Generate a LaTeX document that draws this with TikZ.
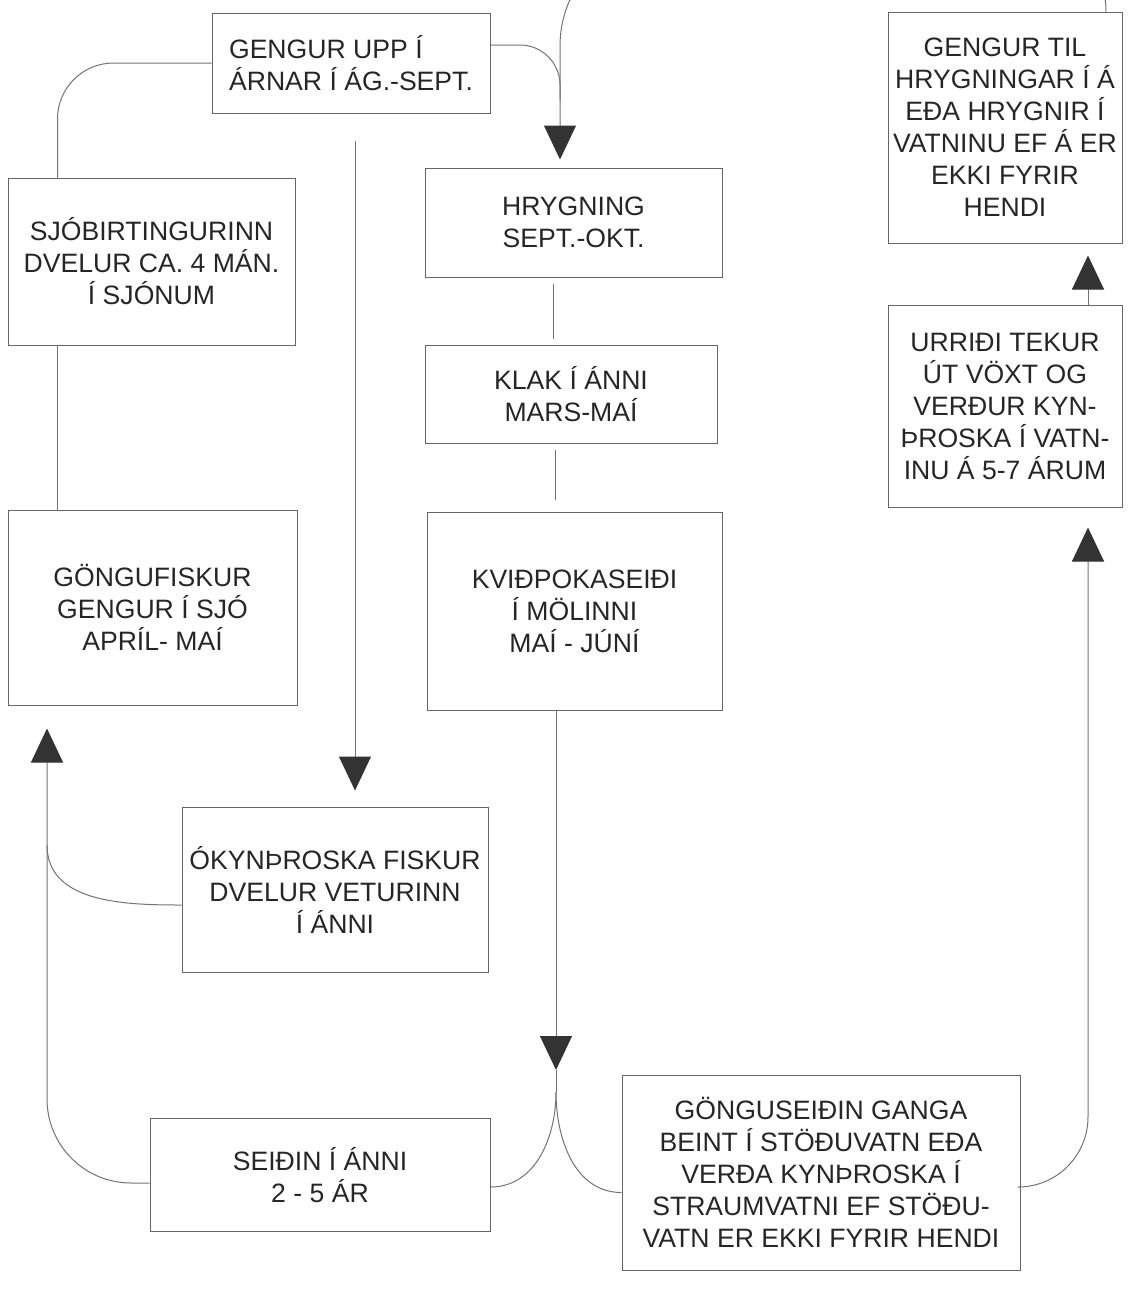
\documentclass[tikz,border=0pt]{standalone}
\usepackage{fontspec}
\setmainfont{Liberation Sans}
\usetikzlibrary{arrows.meta}

\begin{document}
\begin{tikzpicture}[x=0.5pt, y=-0.5pt,
  box/.style={draw=black!60, line width=0.5pt, align=center, inner sep=2pt,
    font=\fontsize{13.3}{16}\selectfont, text=black!85},
  conn/.style={draw=black!55, line width=0.5pt},
  headarrow/.style={-{Triangle[width=16pt, length=17pt, color=black!80]}}]
  \useasboundingbox (0,0) rectangle (1136,1314);
  \clip (0,0) rectangle (1136,1314);

  % river / sea loop
  \node[box, align=left, minimum width=139pt, minimum height=50pt] (gengur) at (351,63) {GENGUR UPP Í\\ÁRNAR Í ÁG.-SEPT.};
  \node[box, minimum width=143.5pt, minimum height=83.5pt] (sjob) at (151.5,261.5) {SJÓBIRTINGURINN\\DVELUR CA. 4 MÁN.\\Í SJÓNUM};
  \node[box, minimum width=144.5pt, minimum height=97.5pt] (gong) at (152.5,607.5) {GÖNGUFISKUR\\GENGUR Í SJÓ\\APRÍL- MAÍ};
  \node[box, minimum width=153pt, minimum height=82.5pt] (ok) at (335,889.5) {ÓKYNÞROSKA FISKUR\\DVELUR VETURINN\\Í ÁNNI};
  \node[box, minimum width=170pt, minimum height=56.5pt] (seidin) at (320,1175) {SEIÐIN Í ÁNNI\\2 - 5 ÁR};

  % spawning column
  \node[box, minimum width=148.5pt, minimum height=54.5pt] (hryg) at (573.5,222.5) {HRYGNING\\SEPT.-OKT.};
  \node[box, minimum width=146pt, minimum height=49pt] (klak) at (571,394) {KLAK Í ÁNNI\\MARS-MAÍ};
  \node[box, minimum width=147.5pt, minimum height=99pt] (kvid) at (574.5,611) {KVIÐPOKASEIÐI\\Í MÖLINNI\\MAÍ - JÚNÍ};

  % lake
  \node[box, minimum width=199pt, minimum height=97.5pt] (gongus) at (821,1172.5) {GÖNGUSEIÐIN GANGA\\BEINT Í STÖÐUVATN EÐA\\VERÐA KYNÞROSKA Í\\STRAUMVATNI EF STÖÐU-\\VATN ER EKKI FYRIR HENDI};
  \node[box, minimum width=117pt, minimum height=115.5pt] (gtil) at (1005,127.5) {GENGUR TIL\\HRYGNINGAR Í Á\\EÐA HRYGNIR Í\\VATNINU EF Á ER\\EKKI FYRIR\\HENDI};
  \node[box, minimum width=117pt, minimum height=101pt] (urr) at (1005,406) {URRIÐI TEKUR\\ÚT VÖXT OG\\VERÐUR KYN-\\ÞROSKA Í VATN-\\INU Á 5-7 ÁRUM};

  \coordinate (merge) at (560,100);
  \coordinate (ktip) at (556,1070);
  \coordinate (split) at (556,1092);
  \coordinate (joinL) at (47,845);

  % connectors
  \draw[conn, rounded corners=28pt] ([xshift=25pt]sjob.north west) |- (gengur.west);
  \draw[conn] ([xshift=25pt]sjob.south west) -- ([xshift=25pt]gong.north west);
  \draw[conn, headarrow, rounded corners=20pt, shorten >=4pt] ([yshift=9pt]gengur.east) -| ([xshift=-6.75pt]hryg.north);
  \draw[conn] ([xshift=50.5pt]gtil.north) to[out=90,in=0] (1046,-60) -- (660,-60) to[out=180,in=90] (560,46) -- (merge);
  \draw[conn, headarrow, shorten <=13.5pt, shorten >=8pt] ([xshift=2pt]gengur.south) -- ([xshift=10pt]ok.north);
  \draw[conn, shorten <=3pt, shorten >=3pt] ([xshift=-10.25pt]hryg.south) -- ([xshift=-9pt]klak.north);
  \draw[conn, shorten <=3pt, shorten >=6pt] ([xshift=-8pt]klak.south) -- ([xshift=-9.75pt]kvid.north);
  \draw[conn, headarrow] ([xshift=-9.25pt]kvid.south) -- (ktip);
  \draw[conn] (ktip) -- (split);
  \draw[conn] (split) to[out=-90,in=0] ([yshift=-6pt]seidin.east);
  \draw[conn] (split) to[out=-90,in=180] ([yshift=-10pt]gongus.west);
  \draw[conn, headarrow, rounded corners=35pt, shorten >=10pt] ([yshift=-7.25pt]gongus.east) -| ([xshift=41.5pt]urr.south);
  \draw[conn, headarrow, shorten >=6pt] ([xshift=41.5pt]urr.north) -- ([xshift=41.5pt]gtil.south);
  \draw[conn, headarrow, rounded corners=42pt, shorten >=11.5pt] ([yshift=-4pt]seidin.west) -| ([xshift=-52.75pt]gong.south);
  \draw[conn] ([yshift=-7.75pt]ok.west) to[out=180,in=-90] (joinL);
\end{tikzpicture}
\end{document}
